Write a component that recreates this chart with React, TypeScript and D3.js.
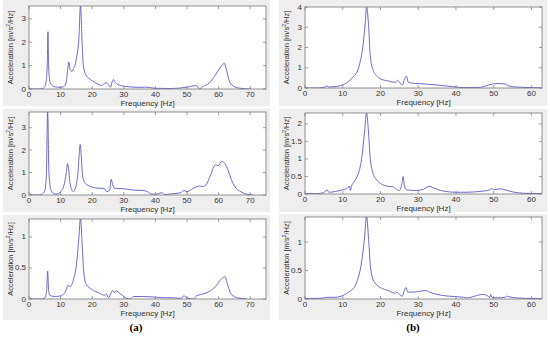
import React from 'react';
import * as d3 from 'd3';

// frequency [Hz], acceleration PSD [m/s^2/Hz]
const a1 = [
  [0, 0], [3, 0], [4, 0.01], [5, 0.1], [5.5, 0.4], [5.8, 1.2], [6.0, 2.45], [6.2, 1.0], [6.5, 0.4], [7, 0.2],
  [8, 0.1], [9, 0.08], [10, 0.07], [11, 0.1], [11.8, 0.3], [12.3, 0.9], [12.6, 1.15], [13, 0.85], [13.5, 0.75],
  [14, 0.85], [15, 1.3], [15.8, 2.2], [16.3, 3.6], [16.8, 2.0], [17.2, 1.0], [18, 0.6], [19, 0.45], [20, 0.35],
  [22, 0.2], [23, 0.15], [24, 0.25], [24.5, 0.27], [25, 0.2], [25.8, 0.08], [26.3, 0.3], [26.8, 0.4], [27.2, 0.3],
  [28, 0.2], [30, 0.12], [35, 0.07], [37, 0.08], [40, 0.03], [45, 0.02], [50, 0.08], [53, 0.15], [54, 0.0],
  [55, 0.1], [57, 0.25], [59, 0.6], [61, 1.0], [61.8, 1.1], [62.5, 0.8], [63.5, 0.3], [65, 0.1], [67, 0.03], [70, 0]
];
const a2 = [
  [0, 0], [3, 0], [4, 0.02], [5, 0.2], [5.5, 0.9], [5.9, 3.8], [6.3, 1.0], [7, 0.2], [8, 0.05], [9, 0.05],
  [10, 0.15], [11, 0.4], [11.8, 1.0], [12.2, 1.4], [12.6, 1.1], [13, 0.5], [14, 0.15], [14.8, 0.35], [15.5, 1.0],
  [16.2, 2.25], [16.6, 1.6], [17, 0.8], [18, 0.5], [20, 0.35], [22, 0.3], [23.8, 0.3], [24.5, 0.15], [25.5, 0.2],
  [26, 0.7], [26.5, 0.45], [27, 0.3], [30, 0.28], [33, 0.22], [36, 0.2], [37.5, 0.15], [38.5, 0.05], [40, 0.03],
  [42, 0.1], [43, 0.02], [45, 0.05], [48, 0.1], [49, 0.2], [50, 0.15], [52, 0.3], [54, 0.4], [55, 0.38],
  [56, 0.45], [57.5, 0.9], [59, 1.35], [59.8, 1.3], [61, 1.5], [62, 1.4], [63, 1.1], [64, 0.7], [65, 0.4],
  [67, 0.15], [69, 0.03], [71, 0]
];
const a3 = [
  [0, 0], [4, 0], [5, 0.02], [5.6, 0.15], [5.9, 0.45], [6.2, 0.15], [6.6, 0.06], [8, 0.04], [10, 0.05], [11, 0.08],
  [11.8, 0.15], [12.3, 0.22], [13, 0.2], [14, 0.3], [15, 0.55], [15.8, 1.0], [16.3, 1.32], [16.8, 0.9], [17.3, 0.45],
  [18, 0.25], [20, 0.15], [22, 0.1], [24, 0.06], [24.5, 0.08], [25.2, 0.02], [26, 0.1], [26.5, 0.14], [27, 0.1],
  [27.5, 0.13], [29, 0.08], [31, 0.01], [32, 0.0], [33, 0.04], [36, 0.04], [40, 0.03], [43, 0.02], [45, 0.02],
  [48, 0.01], [49, 0.05], [50, 0.02], [52, 0.0], [53, 0.05], [55, 0.08], [57, 0.12], [59, 0.2], [61, 0.33],
  [62, 0.36], [63, 0.2], [64, 0.08], [66, 0.02], [69, 0]
];
const b1 = [
  [0, 0], [3, 0], [5, 0.03], [5.8, 0.1], [6.2, 0.05], [8, 0.07], [10, 0.15], [11, 0.25], [12, 0.4], [12.7, 0.55],
  [13.5, 0.7], [14.5, 1.2], [15.3, 2.0], [16, 3.3], [16.3, 4.05], [16.8, 3.2], [17.3, 1.6], [18, 0.9], [19, 0.6],
  [20, 0.45], [22, 0.35], [24, 0.28], [24.5, 0.38], [25, 0.3], [25.8, 0.15], [26.5, 0.5], [26.9, 0.58], [27.3, 0.3],
  [28, 0.25], [30, 0.22], [35, 0.15], [40, 0.05], [42, 0.02], [45, 0.02], [47, 0.05], [49, 0.17], [51, 0.22],
  [53, 0.2], [54, 0.1], [56, 0.05], [60, 0.02], [62.5, 0.01]
];
const b2 = [
  [0, 0.01], [3, 0.01], [5, 0.04], [5.8, 0.12], [6.3, 0.05], [8, 0.07], [10, 0.12], [11, 0.15], [11.8, 0.22],
  [12, 0.1], [12.4, 0.25], [13, 0.35], [14, 0.55], [15, 1.0], [15.8, 1.8], [16.3, 2.32], [16.8, 1.8], [17.3, 1.0],
  [18, 0.6], [19, 0.4], [20, 0.3], [22, 0.22], [23.5, 0.2], [24, 0.15], [25, 0.1], [25.7, 0.3], [26, 0.5],
  [26.4, 0.2], [27, 0.12], [29, 0.1], [31, 0.12], [33, 0.22], [34, 0.18], [36, 0.1], [40, 0.05], [43, 0.05],
  [45, 0.06], [47, 0.08], [49, 0.12], [49.3, 0.16], [50, 0.12], [52, 0.15], [53, 0.12], [55, 0.06], [58, 0.02],
  [62.5, 0.01]
];
const b3 = [
  [0, 0.01], [3, 0.01], [5, 0.02], [5.8, 0.03], [8, 0.03], [10, 0.06], [12, 0.14], [13, 0.2], [14, 0.35], [15, 0.65],
  [15.8, 1.1], [16.3, 1.46], [16.8, 1.1], [17.3, 0.6], [18, 0.35], [19, 0.25], [20, 0.2], [22, 0.15], [24, 0.1],
  [24.3, 0.12], [25, 0.08], [25.8, 0.05], [26.3, 0.15], [26.8, 0.2], [27.2, 0.12], [28, 0.12], [30, 0.13],
  [32, 0.15], [33, 0.12], [35, 0.08], [38, 0.05], [42, 0.03], [43, 0.02], [45, 0.05], [47, 0.08], [48, 0.07],
  [49, 0.03], [49.2, 0.08], [49.5, 0.03], [51, 0.02], [53, 0.03], [53.3, 0.05], [54, 0.04], [56, 0.02],
  [60, 0.01], [62.5, 0.01]
];

const xTicksA = [0, 10, 20, 30, 40, 50, 60, 70];
const xTicksB = [0, 10, 20, 30, 40, 50, 60];

const panels = [
  { data: a1, xMax: 75, yMax: 3.55, yTicks: [0, 1, 2, 3], xTicks: xTicksA, box: [29, 6, 266, 89], bg: [3, 0, 270, 106] },
  { data: a2, xMax: 75, yMax: 3.7, yTicks: [0, 1, 2, 3], xTicks: xTicksA, box: [29, 112, 266, 195], bg: [3, 109, 270, 212] },
  { data: a3, xMax: 75, yMax: 1.29, yTicks: [0, 0.5, 1], xTicks: xTicksA, box: [29, 219, 266, 299], bg: [3, 215, 270, 320] },
  { data: b1, xMax: 62.8, yMax: 4, yTicks: [0, 1, 2, 3, 4], xTicks: xTicksB, box: [305, 7, 542, 88], bg: [279, 0, 547, 106] },
  { data: b2, xMax: 62.8, yMax: 2.31, yTicks: [0, 0.5, 1, 1.5, 2], xTicks: xTicksB, box: [305, 113, 542, 194], bg: [279, 109, 547, 212] },
  { data: b3, xMax: 62.8, yMax: 1.44, yTicks: [0, 0.5, 1], xTicks: xTicksB, box: [305, 217, 542, 299], bg: [279, 214, 547, 320] },
];

const font = '"Liberation Sans", Arial, sans-serif';

function Panel({ p, id }: { p: any; id: number }) {
  const [x0, y0, x1, y1] = p.box;
  const x = d3.scaleLinear().domain([0, p.xMax]).range([x0, x1]);
  const y = d3.scaleLinear().domain([0, p.yMax]).range([y1, y0]);
  const line = d3.line<number[]>().x(d => x(d[0])).y(d => y(d[1])).curve(d3.curveMonotoneX);
  const tl = 3;
  const cx = (x0 + x1) / 2;
  const cy = (y0 + y1) / 2;
  return (
    <g>
      <rect x={p.bg[0]} y={p.bg[1]} width={p.bg[2] - p.bg[0]} height={p.bg[3] - p.bg[1]} fill="#eeeeee" />
      <rect x={x0} y={y0} width={x1 - x0} height={y1 - y0} fill="#fff" />
      <clipPath id={'c' + id}>
        <rect x={x0} y={y0} width={x1 - x0} height={y1 - y0} />
      </clipPath>
      <path d={line(p.data) || ''} fill="none" stroke="#5a5ac8" strokeWidth={0.9} clipPath={`url(#c${id})`} />
      <rect x={x0} y={y0} width={x1 - x0} height={y1 - y0} fill="none" stroke="#777" strokeWidth={0.8} />
      {p.xTicks.map((t: number) => (
        <g key={'x' + t}>
          <line x1={x(t)} x2={x(t)} y1={y1} y2={y1 - tl} stroke="#777" strokeWidth={0.7} />
          <line x1={x(t)} x2={x(t)} y1={y0} y2={y0 + tl} stroke="#777" strokeWidth={0.7} />
          <text x={x(t)} y={y1 + 8} textAnchor="middle" fontSize={8} fill="#333" fontFamily={font}>{t}</text>
        </g>
      ))}
      {p.yTicks.map((t: number) => (
        <g key={'y' + t}>
          <line x1={x0} x2={x0 + tl} y1={y(t)} y2={y(t)} stroke="#777" strokeWidth={0.7} />
          <line x1={x1} x2={x1 - tl} y1={y(t)} y2={y(t)} stroke="#777" strokeWidth={0.7} />
          <text x={x0 - 3} y={y(t) + 2.5} textAnchor="end" fontSize={8} fill="#333" fontFamily={font}>{t}</text>
        </g>
      ))}
      <text x={cx} y={y1 + 17} textAnchor="middle" fontSize={8} fill="#333" fontFamily={font}>Frequency [Hz]</text>
      <text transform={`translate(${x0 - 16},${cy}) rotate(-90)`} textAnchor="middle" fontSize={7.5} fill="#333" fontFamily={font}>
        Acceleration [m/s<tspan fontSize={5} dy={-3}>2</tspan><tspan dy={3}>/Hz]</tspan>
      </text>
    </g>
  );
}

export default function App() {
  return (
    <svg width={550} height={343} style={{ position: 'absolute', left: 0, top: 0 }}>
      <rect width={550} height={343} fill="#fff" />
      {panels.map((p, i) => <Panel key={i} p={p} id={i} />)}
      <text x={136} y={331} textAnchor="middle" fontSize={11} fontWeight="bold" fontFamily='"Liberation Serif", serif'>(a)</text>
      <text x={413} y={331} textAnchor="middle" fontSize={11} fontWeight="bold" fontFamily='"Liberation Serif", serif'>(b)</text>
    </svg>
  );
}
